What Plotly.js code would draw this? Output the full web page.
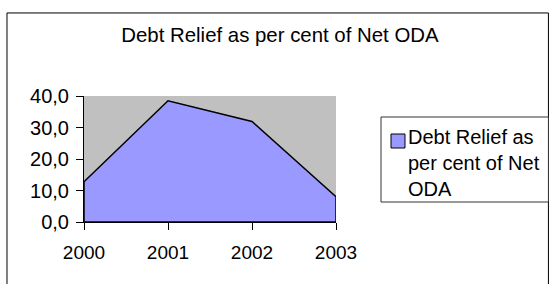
<!DOCTYPE html>
<html>
<head>
<meta charset="utf-8">
<script src="https://cdn.plot.ly/plotly-3.0.1.min.js"></script>
<style>html,body{margin:0;padding:0;background:#fff;}#chart{width:550px;height:284px;}</style>
</head>
<body>
<div id="chart"></div>
<script>
// Data
const years = ['2000', '2001', '2002', '2003'];
const debtReliefPct = [12.8, 38.5, 31.9, 8.0];
const seriesName = 'Debt Relief as per cent of Net ODA';
const legendLines = ['Debt Relief as', 'per cent of Net', 'ODA'];
const chartTitle = 'Debt Relief as per cent of Net ODA';
const yTicks = [0, 10, 20, 30, 40];

// closed outline polygon built from the data arrays
const polyX = years.concat([years[years.length - 1], years[0], years[0]]);
const polyY = debtReliefPct.concat([0, 0, debtReliefPct[0]]);

const FONT = 'Liberation Sans, Arial, sans-serif';

const traces = [{
  type: 'scatter',
  mode: 'lines',
  x: polyX,
  y: polyY,
  name: seriesName,
  fill: 'toself',
  fillcolor: '#9999FF',
  line: {color: '#000000', width: 1.5},
  hoverinfo: 'skip',
  showlegend: false
}];

const layout = {
  width: 550,
  height: 284,
  margin: {l: 84, r: 214, t: 96, b: 62, pad: 0},
  paper_bgcolor: '#FFFFFF',
  plot_bgcolor: '#C0C0C0',
  separators: ',.',
  showlegend: false,
  font: {family: FONT, color: '#000000', size: 19},
  title: {
    text: chartTitle,
    font: {family: FONT, size: 20.4, color: '#000000'},
    x: 0.509, xanchor: 'center',
    y: 1 - 35 / 284, yanchor: 'middle'
  },
  xaxis: {
    type: 'category',
    range: [0, years.length - 1],
    tickvals: years,
    ticktext: years,
    ticks: 'outside',
    ticklen: 7,
    tickcolor: '#000000',
    tickwidth: 1,
    showline: true,
    linecolor: '#000000',
    linewidth: 1,
    showgrid: false,
    zeroline: false,
    ticklabelstandoff: 6,
    tickfont: {family: FONT, size: 19, color: '#000000'}
  },
  yaxis: {
    range: [0, 40],
    tickvals: yTicks,
    tickformat: '.1f',
    ticks: 'outside',
    ticklen: 7,
    tickcolor: '#000000',
    tickwidth: 1,
    showline: true,
    linecolor: '#000000',
    linewidth: 1,
    showgrid: false,
    zeroline: false,
    ticklabelstandoff: 3,
    tickfont: {family: FONT, size: 20, color: '#000000'}
  },
  shapes: [
    // outer chart border
    {type: 'rect', xref: 'paper', yref: 'paper', x0: -0.3056, x1: 1.843, y0: -0.7, y1: 1.659,
     line: {color: '#000000', width: 1}, fillcolor: 'rgba(0,0,0,0)', layer: 'above'},
    // legend box
    {type: 'rect', xref: 'paper', yref: 'paper', x0: 1.1786, x1: 1.843, y0: 0.1587, y1: 0.8333,
     line: {color: '#333333', width: 1}, fillcolor: '#FFFFFF', layer: 'above'},
    // legend swatch
    {type: 'rect', xref: 'paper', yref: 'paper', x0: 1.2183, x1: 1.2738, y0: 0.5873, y1: 0.6984,
     line: {color: '#000000', width: 1}, fillcolor: '#9999FF', layer: 'above'}
  ],
  annotations: [{
    xref: 'paper', yref: 'paper',
    x: 1.2778, y: 0.468,
    xanchor: 'left', yanchor: 'middle', align: 'left',
    showarrow: false,
    text: legendLines.join('<br>'),
    font: {family: FONT, size: 20, color: '#000000'}
  }]
};

Plotly.newPlot('chart', traces, layout, {displayModeBar: false, staticPlot: true});
</script>
</body>
</html>
